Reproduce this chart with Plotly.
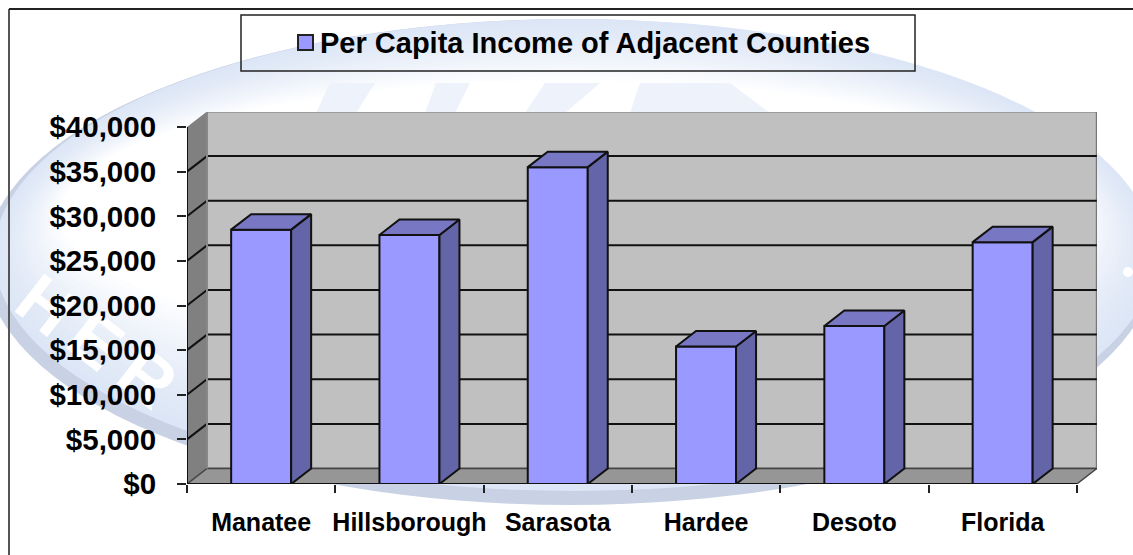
import plotly.graph_objects as go

# ---------- data ----------
categories = ["Manatee", "Hillsborough", "Sarasota", "Hardee", "Desoto", "Florida"]
income = [28500, 27900, 35500, 15400, 17700, 27100]
y_ticks = [0, 5000, 10000, 15000, 20000, 25000, 30000, 35000, 40000]
y_labels = ["$0", "$5,000", "$10,000", "$15,000", "$20,000", "$25,000", "$30,000", "$35,000", "$40,000"]
legend_title = "Per Capita Income of Adjacent Counties"
watermark_letters = ["H", "E", "R"]

# ---------- layout geometry (pixels) ----------
W, H = 1133, 555
L, R, T, B = 187, 1097, 112, 484          # plot box
CAT_PX = 148.3                            # one category slot
VAL_PX = 357 / 40000                      # pixels per dollar
DX = 20 / CAT_PX                          # 3-D depth in x units
DY = 15.5 / VAL_PX                        # 3-D depth in y units
BAR_W = 60 / CAT_PX
FONT = "Liberation Sans"

def px(x):
    return (x - L) / (R - L)

def py(y):
    return (B - y) / (B - T)

def poly(points):
    return "M " + " L ".join(f"{a},{b}" for a, b in points) + " Z"

shapes = []

def paper_rect(x0, y0, x1, y1, **kw):
    shapes.append(dict(type="rect", xref="paper", yref="paper", layer="below",
                       x0=px(x0), x1=px(x1), y0=py(y0), y1=py(y1), **kw))

def ellipse(cx, cy, rx, ry, col):
    shapes.append(dict(type="circle", xref="paper", yref="paper", layer="below",
                       x0=px(cx - rx), x1=px(cx + rx), y0=py(cy - ry), y1=py(cy + ry),
                       fillcolor=f"rgb{col}", line=dict(width=0)))

# ---------- watermark: soft elliptical ring ----------
ellipse(570, 262, 585, 243, (200, 210, 228))
STEPS = 16
for i in range(STEPS + 1):
    t = i / STEPS
    col = tuple(round(a + (255 - a) * t ** 1.3) for a in (221, 230, 246))
    ellipse(574 - 4 * t, 255 - 40 * t, 580 - 70 * t, 236 - 101 * t, col)

# pale letter fragments above the wall
for a, b, c, d in [(330, 375, 316, 356), (436, 470, 425, 455),
                   (545, 600, 525, 565), (640, 730, 630, 770)]:
    shapes.append(dict(type="path", xref="paper", yref="paper", layer="below",
                       path=poly([(px(a), py(83)), (px(b), py(83)), (px(d), py(113)), (px(c), py(113))]),
                       fillcolor="#edf2fb", line=dict(width=0)))

# white watermark letters on the ring, one box per letter
for letter, (lx, ly) in zip(watermark_letters, [(50, 300), (100, 335), (152, 372)]):
    paper_rect(lx - 60, ly - 60, lx + 60, ly + 60, fillcolor="rgba(0,0,0,0)", line=dict(width=0),
               label=dict(text=f"<b>{letter}</b>", textangle=38, textposition="middle center",
                          font=dict(family=FONT, size=70, color="white")))
ellipse(1128, 272, 5, 5, (255, 255, 255))

# ---------- chart frame ----------
shapes.append(dict(type="line", xref="paper", yref="paper", layer="below",
                   x0=px(9), x1=px(9), y0=py(9), y1=py(H), line=dict(color="#555555", width=2)))
shapes.append(dict(type="line", xref="paper", yref="paper", layer="below",
                   x0=px(9), x1=px(W), y0=py(9), y1=py(9), line=dict(color="#222222", width=2)))

# ---------- 3-D walls, in data coordinates ----------
X_MAX = (R - L) / CAT_PX
Y_MAX = (B - T) / VAL_PX
n = len(categories)

def data_poly(points, fill, line=None):
    shapes.append(dict(type="path", xref="x", yref="y", layer="below", path=poly(points),
                       fillcolor=fill, line=line or dict(width=0)))

data_poly([(DX, DY), (n + DX, DY), (n + DX, y_ticks[-1] + DY), (DX, y_ticks[-1] + DY)],
          "#c0c0c0", dict(color="#777777", width=2))
data_poly([(0, 0), (DX, DY), (DX, y_ticks[-1] + DY), (0, y_ticks[-1])], "#808080")
data_poly([(0, 0), (n, 0), (n + DX, DY), (DX, DY)], "#969696", dict(color="#444444", width=1.5))

for v in y_ticks:
    if 0 < v < y_ticks[-1]:
        for x0, y0, x1, y1 in [(0, v, DX, v + DY), (DX, v + DY, n + DX, v + DY)]:
            shapes.append(dict(type="line", xref="x", yref="y", layer="below",
                               x0=x0, x1=x1, y0=y0, y1=y1, line=dict(color="#111111", width=2)))
shapes.append(dict(type="line", xref="x", yref="y", layer="below", x0=DX, x1=DX,
                   y0=DY, y1=y_ticks[-1] + DY, line=dict(color="#888888", width=2)))
shapes.append(dict(type="line", xref="x", yref="y", layer="below", x0=0, x1=0,
                   y0=0, y1=y_ticks[-1], line=dict(color="#111111", width=2)))
shapes.append(dict(type="line", xref="x", yref="y", layer="above", x0=0, x1=n,
                   y0=0, y1=0, line=dict(color="#111111", width=2)))

# ---------- legend box ----------
paper_rect(241, 15, 915, 71, fillcolor="rgba(255,255,255,0)", line=dict(color="#222222", width=1.5))
shapes.append(dict(type="rect", xref="paper", yref="paper", layer="above",
                   x0=px(298), x1=px(313), y0=py(35), y1=py(50),
                   fillcolor="#9999ff", line=dict(color="#222222", width=2)))

# ---------- traces ----------
xs = [i + 0.5 for i in range(n)]
fig = go.Figure()
fig.add_trace(go.Bar(x=xs, y=income, width=BAR_W,
                     marker=dict(color="#9999ff", line=dict(color="#111111", width=2)),
                     name=legend_title, hoverinfo="x+y"))

for x, v in zip(xs, income):
    x0, x1 = x - BAR_W / 2, x + BAR_W / 2
    fig.add_trace(go.Scatter(x=[x1, x1 + DX, x1 + DX, x1, x1], y=[0, DY, v + DY, v, 0],
                             mode="lines", fill="toself", fillcolor="#6464a8",
                             line=dict(color="#111111", width=2), showlegend=False, hoverinfo="skip"))
    fig.add_trace(go.Scatter(x=[x0, x1, x1 + DX, x0 + DX, x0], y=[v, v, v + DY, v + DY, v],
                             mode="lines", fill="toself", fillcolor="#7777c4",
                             line=dict(color="#111111", width=2), showlegend=False, hoverinfo="skip"))

fig.update_layout(
    width=W, height=H,
    margin=dict(l=L, r=W - R, t=T, b=H - B, pad=0),
    paper_bgcolor="white", plot_bgcolor="rgba(0,0,0,0)",
    showlegend=False, shapes=shapes,
    font=dict(family=FONT, color="black"),
    annotations=[dict(text=f"<b>{legend_title}</b>", xref="paper", yref="paper",
                      x=px(318), y=py(43), xanchor="left", yanchor="middle", showarrow=False,
                      font=dict(family=FONT, size=29, color="black"))],
    xaxis=dict(range=[0, X_MAX], showgrid=False, zeroline=False, showline=False,
               tickmode="array", tickvals=xs, ticktext=[f"<b>{c}</b>" for c in categories],
               ticks="", ticklabelstandoff=21,
               tickfont=dict(family=FONT, size=25, color="black"),
               minor=dict(ticks="outside", ticklen=8, tickwidth=1.5, tickcolor="#222222",
                          tick0=0, dtick=1, showgrid=False)),
    yaxis=dict(range=[0, Y_MAX], showgrid=False, zeroline=False, showline=False,
               tickmode="array", tickvals=y_ticks, ticktext=[f"<b>{t}</b>" for t in y_labels],
               ticks="outside", ticklen=9, tickwidth=1.5, tickcolor="#222222", ticklabelstandoff=15,
               tickfont=dict(family=FONT, size=29.5, color="black")),
)

fig.write_html("out.html", config=dict(displayModeBar=False),
               post_script="document.body.style.margin='0';document.body.style.overflow='hidden';")
